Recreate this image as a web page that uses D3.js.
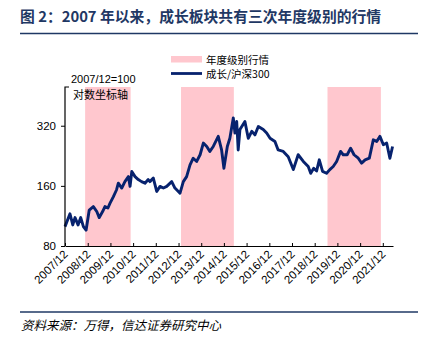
<!DOCTYPE html>
<html>
<head>
<meta charset="utf-8">
<script src="https://cdn.jsdelivr.net/npm/d3@7"></script>
<style>
body{margin:0;background:#fff;}
svg{display:block;}
</style>
</head>
<body>
<svg id="c" width="427" height="342"></svg>
<script>
const title = "图 2：2007 年以来，成长板块共有三次年度级别的行情";
const source = "资料来源：万得，信达证券研究中心";
const seriesName = "成长/沪深300";
const shadeName = "年度级别行情";
const baseNote = "2007/12=100";
const logNote = "对数坐标轴";

const dates = ["2007-12-01","2008-02-19","2008-04-04","2008-05-10","2008-06-28","2008-08-10","2008-09-22","2008-11-04","2008-12-25","2009-03-01","2009-04-25","2009-06-04","2009-07-28","2009-09-04","2009-10-22","2009-11-25","2010-01-16","2010-03-10","2010-04-07","2010-06-01","2010-07-22","2010-09-16","2010-10-13","2010-11-10","2011-01-01","2011-02-22","2011-04-16","2011-06-10","2011-08-01","2011-08-28","2011-10-22","2011-12-16","2012-02-07","2012-04-01","2012-05-25","2012-08-13","2012-10-04","2012-11-28","2012-12-25","2013-02-16","2013-04-10","2013-06-04","2013-07-25","2013-09-19","2013-11-13","2014-01-04","2014-02-28","2014-04-19","2014-06-13","2014-09-01","2014-10-25","2014-12-01","2015-01-25","2015-03-07","2015-05-01","2015-05-28","2015-06-25","2015-07-19","2015-08-16","2015-11-04","2015-12-28","2016-02-22","2016-04-13","2016-06-07","2016-08-25","2016-10-19","2016-12-13","2017-03-01","2017-04-22","2017-07-13","2017-10-01","2017-12-22","2018-03-10","2018-06-01","2018-08-19","2018-09-28","2018-11-15","2019-01-01","2019-02-13","2019-04-07","2019-06-10","2019-08-01","2019-09-25","2019-11-19","2020-01-22","2020-03-04","2020-05-07","2020-07-01","2020-08-25","2020-11-01","2020-12-25","2021-02-19","2021-04-28","2021-07-01","2021-08-25","2021-10-16","2021-12-10","2022-02-01","2022-03-25","2022-05-07"];
const values = [100,116,102,111,102,111,100,96,121,126,119,111,119,126,124,131,141,153,165,156,168,178,159,189,178,172,168,165,172,168,175,150,159,156,159,168,156,150,147,168,178,204,220,212,229,262,252,238,252,283,242,196,252,277,350,294,336,242,306,336,277,300,288,317,306,294,277,267,242,238,224,193,229,212,200,185,196,190,216,189,185,193,200,212,238,229,229,247,229,220,208,216,220,272,267,283,257,262,220,252];

const shadeStart = ["2008-10-20","2013-01-10","2019-06-25"];
const shadeEnd = ["2010-10-22","2015-05-10","2021-10-31"];

const tickDates = ["2007-12-01","2008-12-01","2009-12-01","2010-12-01","2011-12-01","2012-12-01","2013-12-01","2014-12-01","2015-12-01","2016-12-01","2017-12-01","2018-12-01","2019-12-01","2020-12-01","2021-12-01"];
const tickLabels = ["2007/12","2008/12","2009/12","2010/12","2011/12","2012/12","2013/12","2014/12","2015/12","2016/12","2017/12","2018/12","2019/12","2020/12","2021/12"];
const yTicks = [80,160,320];
const yDomain = [80,500];
const xDomain = ["2007-12-01","2022-05-14"];

const navy = "#1f3864";
const lineColor = "#07226e";
const pink = "#ffc7ce";
const cjk = "'Noto Sans CJK SC', sans-serif";
const latin = "'Liberation Sans', Arial, sans-serif";

const parse = d3.timeParse("%Y-%m-%d");
const svg = d3.select("#c");

const L = 65, R = 393, T = 87, B = 246;
const x = d3.scaleTime().domain(xDomain.map(parse)).range([L, R]);
const y = d3.scaleLog().domain(yDomain).range([B, T]);

// title
svg.append("text").attr("x", 20).attr("y", 21.5)
  .attr("font-family", cjk).attr("font-weight", "bold").attr("font-size", 14.8)
  .attr("fill", navy).text(title);
svg.append("line").attr("x1", 20).attr("x2", 418).attr("y1", 33.5).attr("y2", 33.5)
  .attr("stroke", navy).attr("stroke-width", 1.5);

// shading
svg.append("g").selectAll("rect").data(shadeStart).join("rect")
  .attr("x", (d) => x(parse(d)))
  .attr("width", (d, i) => x(parse(shadeEnd[i])) - x(parse(d)))
  .attr("y", T).attr("height", B - T)
  .attr("fill", pink);

// line
const data = dates.map((d, i) => ({date: parse(d), v: values[i]}));
svg.append("path").datum(data)
  .attr("fill", "none").attr("stroke", lineColor).attr("stroke-width", 2.9)
  .attr("stroke-linejoin", "round")
  .attr("d", d3.line().x(d => x(d.date)).y(d => y(d.v)));

// y axis
const yAxis = svg.append("g").attr("transform", `translate(${L},0)`)
  .call(d3.axisLeft(y).tickValues(yTicks).tickFormat(d3.format("d")).tickSize(4).tickSizeOuter(0));
yAxis.select(".domain").remove();
yAxis.append("path").attr("d", `M4,${T}H0V${B}`).attr("stroke", "#000").attr("stroke-width", 1.2).attr("fill", "none");
yAxis.selectAll(".tick line").attr("stroke", "#000");
yAxis.selectAll(".tick text").attr("font-family", latin).attr("font-size", 11.5).attr("fill", "#000").attr("x", -9);

// x axis
const xAxis = svg.append("g").attr("transform", `translate(0,${B})`)
  .call(d3.axisBottom(x).tickValues(tickDates.map(parse)).tickFormat((d, i) => tickLabels[i]).tickSize(-3).tickSizeOuter(0));
xAxis.select(".domain").attr("stroke", "#000").attr("stroke-width", 1.2);
xAxis.selectAll(".tick line").attr("stroke", "#000");
xAxis.selectAll(".tick text")
  .attr("font-family", latin).attr("font-size", 11.5).attr("fill", "#000")
  .attr("text-anchor", "end").attr("dy", null).attr("y", 0)
  .attr("transform", "translate(3,9) rotate(-45)");

// notes
svg.append("text").attr("x", 71).attr("y", 83).attr("font-family", latin).attr("font-size", 11).attr("fill", "#000").text(baseNote);
svg.append("text").attr("x", 73).attr("y", 98.5).attr("font-family", cjk).attr("font-size", 11).attr("fill", "#000").text(logNote);

// legend
svg.append("rect").attr("x", 171).attr("y", 56).attr("width", 31).attr("height", 6.5).attr("fill", pink);
svg.append("text").attr("x", 206).attr("y", 63.5).attr("font-family", cjk).attr("font-size", 10.5).attr("fill", "#000").text(shadeName);
svg.append("line").attr("x1", 171).attr("x2", 202).attr("y1", 73.5).attr("y2", 73.5).attr("stroke", lineColor).attr("stroke-width", 2.8);
svg.append("text").attr("x", 206).attr("y", 77.5).attr("font-family", cjk).attr("font-size", 10.5).attr("fill", "#000").text(seriesName);

// footer
svg.append("line").attr("x1", 20).attr("x2", 418).attr("y1", 312).attr("y2", 312)
  .attr("stroke", navy).attr("stroke-width", 1.5);
svg.append("text").attr("x", 21).attr("y", 330).attr("font-family", cjk).attr("font-size", 12.5)
  .attr("font-style", "italic").attr("fill", "#000").text(source);
</script>
</body>
</html>
